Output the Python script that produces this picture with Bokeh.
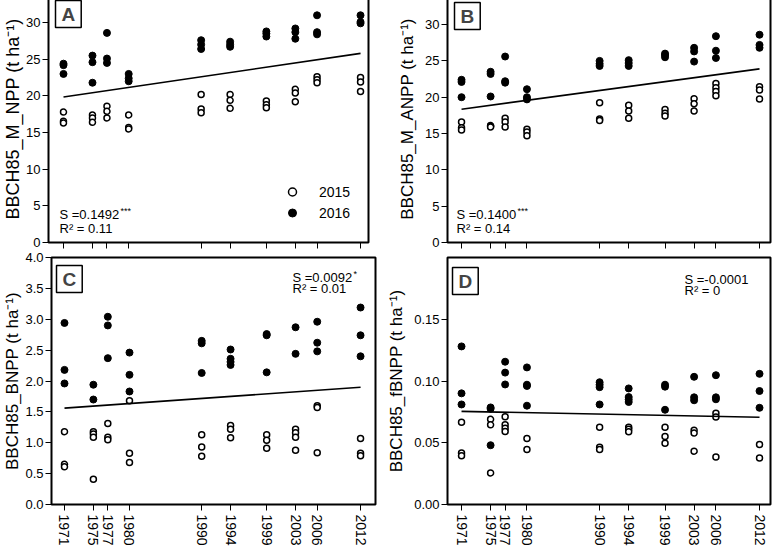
from bokeh.plotting import figure
from bokeh.models import Range1d, FixedTicker, Label, Legend, LegendItem, NumeralTickFormatter
from bokeh.layouts import column, row
from bokeh.embed import file_html
from bokeh.resources import INLINE

FONT = "Liberation Sans"

# ---------------- data ----------------
YEARS = [1971, 1975, 1977, 1980, 1990, 1994, 1999, 2003, 2006, 2012]
TREND_YEARS = [1971, 2012]

A_2015 = {1971: [17.8, 16.55, 16.3], 1975: [17.4, 17.0, 16.4], 1977: [18.6, 17.9, 17.0],
          1980: [17.4, 15.7, 15.5], 1990: [20.2, 18.2, 17.7], 1994: [20.2, 19.4, 18.3],
          1999: [19.3, 18.8, 18.4], 2003: [20.9, 20.4, 19.2], 2006: [22.6, 22.2, 21.8],
          2012: [22.5, 21.9, 20.6]}
A_2016 = {1971: [24.4, 24.2, 23.0], 1975: [25.5, 24.6, 21.8], 1977: [28.6, 25.1, 24.5],
          1980: [23.0, 22.4, 22.0], 1990: [27.6, 27.0, 26.4], 1994: [27.4, 27.0, 26.7],
          1999: [28.8, 28.5, 28.1], 2003: [29.2, 28.7, 27.8], 2006: [31.0, 28.7, 28.4],
          2012: [31.0, 30.1, 29.9]}
A_TREND = [19.85, 25.8]

B_2015 = {1971: [16.6, 15.8, 15.5], 1975: [16.1, 16.0, 15.9], 1977: [17.1, 16.6, 15.9],
          1980: [15.6, 15.2, 14.7], 1990: [19.25, 17.0, 16.8], 1994: [18.9, 18.1, 17.1],
          1999: [18.3, 17.8, 17.4], 2003: [19.8, 19.1, 18.1], 2006: [21.9, 21.3, 20.8, 20.2],
          2012: [21.45, 21.0, 19.75]}
B_2016 = {1971: [22.4, 22.1, 20.0], 1975: [23.5, 23.2, 20.1], 1977: [25.6, 22.2, 22.0],
          1980: [21.1, 20.0, 19.7], 1990: [25.0, 24.6, 24.3], 1994: [25.1, 24.7, 24.3],
          1999: [26.0, 25.8, 25.5], 2003: [26.8, 26.3, 24.9], 2006: [28.4, 26.4, 25.4],
          2012: [28.6, 27.2, 26.8]}
B_TREND = [18.35, 23.9]

C_2015 = {1971: [1.18, 0.65, 0.61], 1975: [1.18, 1.14, 1.09, 0.41], 1977: [1.31, 1.09, 1.05],
          1980: [1.68, 0.83, 0.68], 1990: [1.13, 0.93, 0.78], 1994: [1.28, 1.22, 1.08],
          1999: [1.13, 1.04, 0.91], 2003: [1.22, 1.16, 1.09, 0.88], 2006: [1.60, 1.57, 0.84],
          2012: [1.07, 0.83, 0.79]}
C_2016 = {1971: [2.94, 2.18, 1.96], 1975: [1.94, 1.70], 1977: [3.04, 2.90, 2.37],
          1980: [2.46, 2.10, 1.83], 1990: [2.65, 2.61, 2.13], 1994: [2.51, 2.36, 2.31, 2.26],
          1999: [2.76, 2.74, 2.14], 2003: [2.87, 2.44], 2006: [2.96, 2.62, 2.48],
          2012: [3.19, 2.74, 2.40]}
C_TREND = [1.56, 1.90]

D_2015 = {1971: [0.0666, 0.0418, 0.0394], 1975: [0.069, 0.0645, 0.0256],
          1977: [0.0711, 0.0645, 0.0618, 0.0591], 1980: [0.0535, 0.0445],
          1990: [0.0626, 0.0464, 0.0445], 1994: [0.0626, 0.061, 0.059],
          1999: [0.0626, 0.055, 0.0495], 2003: [0.0602, 0.0578, 0.0432],
          2006: [0.0738, 0.0708, 0.0384], 2012: [0.0485, 0.0376]}
D_2016 = {1971: [0.128, 0.090, 0.081], 1975: [0.0786, 0.0775, 0.048],
          1977: [0.1156, 0.1068, 0.0972], 1980: [0.111, 0.097, 0.096, 0.080],
          1990: [0.099, 0.097, 0.095, 0.081], 1994: [0.094, 0.087, 0.085, 0.083],
          1999: [0.097, 0.0954, 0.0767], 2003: [0.1034, 0.0868, 0.0844],
          2006: [0.1047, 0.0868, 0.0852], 2012: [0.1058, 0.0919, 0.0783]}
D_TREND = [0.0754, 0.0706]


def flatten(d):
    xs, ys = [], []
    for yr, vals in d.items():
        for v in vals:
            xs.append(yr)
            ys.append(v)
    return xs, ys


def make_panel(height, borders, xr, yr, yticks, yfmt, ylabel, ylabel_size, label_standoff,
               show_xlabels, d15, d16, trend, tag, tag_pos, s_text, stars, r_text,
               stat_pos, legend=False):
    bl, br, bt, bb = borders
    p = figure(width=392, height=height, output_backend="svg", toolbar_location=None,
               x_range=Range1d(*xr), y_range=Range1d(*yr),
               min_border_left=bl, min_border_right=br, min_border_top=bt,
               min_border_bottom=bb)
    p.background_fill_color = "white"
    p.border_fill_color = "white"
    p.outline_line_color = "black"
    p.outline_line_width = 2
    p.xgrid.visible = False
    p.ygrid.visible = False

    for ax in (p.xaxis[0], p.yaxis[0]):
        ax.axis_line_color = None
        ax.major_tick_line_color = "black"
        ax.major_tick_line_width = 1
        ax.major_tick_in = 0
        ax.major_tick_out = 6
        ax.minor_tick_line_color = None
        ax.major_label_text_font = FONT
        ax.major_label_text_color = "black"
        ax.major_label_text_font_size = "13px"

    p.xaxis.ticker = FixedTicker(ticks=YEARS)
    if show_xlabels:
        p.xaxis.major_label_orientation = "vertical"
        p.xaxis.major_label_standoff = 4
        p.xaxis.major_label_text_font_size = "14px"
    else:
        p.xaxis.major_label_overrides = {yr_: "" for yr_ in YEARS}
        p.xaxis.major_label_standoff = 0

    p.yaxis.ticker = FixedTicker(ticks=yticks)
    p.yaxis.formatter = NumeralTickFormatter(format=yfmt)
    p.yaxis.major_label_standoff = 2
    p.yaxis.axis_label = ylabel
    p.yaxis.axis_label_text_font = FONT
    p.yaxis.axis_label_text_font_style = "normal"
    p.yaxis.axis_label_text_font_size = ylabel_size
    p.yaxis.axis_label_text_color = "black"
    p.yaxis.axis_label_standoff = label_standoff

    x15, y15 = flatten(d15)
    x16, y16 = flatten(d16)
    r15 = p.scatter(x15, y15, marker="circle", size=6, fill_color="white",
                    line_color="black", line_width=1.5)
    r16 = p.scatter(x16, y16, marker="circle", size=7, fill_color="black",
                    line_color="black", line_width=1)
    p.line(TREND_YEARS, trend, line_color="black", line_width=1.6)

    p.add_layout(Label(x=tag_pos[0], y=tag_pos[1], x_units="screen", y_units="screen",
                       text=tag, text_font=FONT, text_font_style="bold",
                       text_font_size="19px", text_align="left", text_baseline="top",
                       border_line_color="black", border_line_width=1.5,
                       background_fill_color="white", padding=(6, 3)))

    sx, sy, ry = stat_pos
    p.add_layout(Label(x=sx, y=sy, x_units="screen", y_units="screen", text=s_text,
                       text_font=FONT, text_font_size="13px", text_color="black",
                       text_baseline="alphabetic"))
    if stars:
        p.add_layout(Label(x=sx + 61, y=sy + 4, x_units="screen", y_units="screen",
                           text=stars, text_font=FONT, text_font_size="9px",
                           text_color="black", text_baseline="alphabetic"))
    p.add_layout(Label(x=sx, y=ry, x_units="screen", y_units="screen", text=r_text,
                       text_font=FONT, text_font_size="13px", text_color="black",
                       text_baseline="alphabetic"))

    if legend:
        lg = Legend(items=[LegendItem(label="2015", renderers=[r15]),
                           LegendItem(label="2016", renderers=[r16])],
                    location=(234, 19), border_line_color=None,
                    background_fill_alpha=0, margin=0, padding=0, spacing=0,
                    glyph_width=20, glyph_height=21, label_height=21,
                    label_standoff=17, label_text_font=FONT,
                    label_text_font_size="14px", label_text_color="black")
        p.add_layout(lg, "center")
    return p


pA = make_panel(257, (56, 16, 3, 7), (1968.93, 2013.1), (0, 33.7),
                [0, 5, 10, 15, 20, 25, 30], "0", "BBCH85_M_NPP (t ha\u207b\u00b9)", "18px", 0,
                False, A_2015, A_2016, A_TREND, "A", (7, 242),
                "S =0.1492", "***", "R\u00b2 = 0.11", (11, 28, 14), legend=True)
pB = make_panel(257, (63, 6, 3, 7), (1969.07, 2013.51), (0, 34),
                [0, 5, 10, 15, 20, 25, 30], "0", "BBCH85_M_ANPP (t ha\u207b\u00b9)", "17px", 5,
                False, B_2015, B_2016, B_TREND, "B", (7, 240),
                "S =0.1400", "***", "R\u00b2 = 0.14", (9, 28, 14))
pC = make_panel(303, (59, 9, 6, 48), (1969.2, 2014.07), (0, 4.0),
                [0, 0.5, 1.0, 1.5, 2.0, 2.5, 3.0, 3.5, 4.0], "0.0",
                "BBCH85_BNPP (t ha\u207b\u00b9)", "17px", 0,
                True, C_2015, C_2016, C_TREND, "C", (5, 239),
                "S =0.0092", "*", "R\u00b2 = 0.01", (241, 227, 216))
pD = make_panel(303, (63, 6, 8, 46), (1969.07, 2013.51), (0, 0.2),
                [0, 0.05, 0.10, 0.15], "0.00", "BBCH85_fBNPP (t ha\u207b\u00b9)", "17px", 5,
                True, D_2015, D_2016, D_TREND, "D", (5, 237),
                "S =-0.0001", "", "R\u00b2 = 0", (237, 225, 214))

layout = column(row(pA, pB), row(pC, pD), margin=(-8, 0, 0, -8))
open("out.html", "w").write(file_html(layout, INLINE))
